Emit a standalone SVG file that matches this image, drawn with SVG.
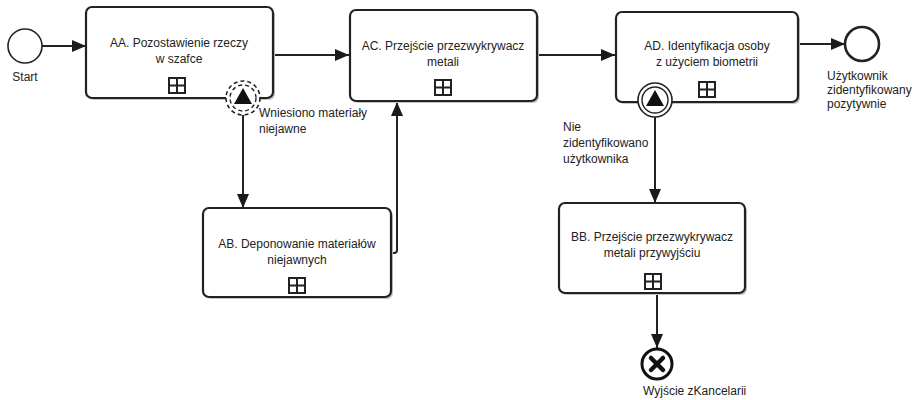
<svg xmlns="http://www.w3.org/2000/svg" width="916" height="400" viewBox="0 0 916 400">
<defs>
<marker id="arr" markerWidth="14" markerHeight="12" refX="14" refY="6" orient="auto" markerUnits="userSpaceOnUse">
<path d="M0,0 L14,6 L0,12 Z" fill="#1a1a1a"/>
</marker>
<style>
.box{fill:#fff;stroke:#222;stroke-width:2.2}
.shadow{fill:#c4c4c4;stroke:none}
.t{font-family:"Liberation Sans",Arial,sans-serif;font-size:12px;fill:#222}
.c{text-anchor:middle}
.conn{fill:none;stroke:#222;stroke-width:2}
.mk{fill:#fff;stroke:#222;stroke-width:2}
</style>
</defs>
<rect width="916" height="400" fill="#fff"/>

<g id="connectors">
<path class="conn" d="M42,46 L86,46" marker-end="url(#arr)"/>
<path class="conn" d="M273,55 L349,55" marker-end="url(#arr)"/>
<path class="conn" d="M243,115 L243,208" marker-end="url(#arr)"/>
<path class="conn" d="M391,253 L394,253 Q397,253 397,250 L397,102" marker-end="url(#arr)"/>
<path class="conn" d="M538,55 L615,55" marker-end="url(#arr)"/>
<path class="conn" d="M798,44 L845,44" marker-end="url(#arr)"/>
<path class="conn" d="M655,117 L655,203" marker-end="url(#arr)"/>
<path class="conn" d="M657,293 L657,348" marker-end="url(#arr)"/>
</g>

<g id="start">
<circle cx="25" cy="46" r="17" fill="#fff" stroke="#222" stroke-width="1.6"/>
<text class="t c" x="25" y="81">Start</text>
</g>

<g id="AA">
<rect class="shadow" x="88" y="9" width="187" height="91" rx="6"/>
<rect class="box" x="86" y="7" width="187" height="91" rx="6"/>
<text class="t c" x="179" y="47">AA. Pozostawienie rzeczy</text>
<text class="t c" x="179" y="63">w szafce</text>
<rect class="mk" x="169" y="78" width="16" height="15"/>
<path d="M177,78 V93 M169,85.5 H185" stroke="#222" stroke-width="2"/>
</g>

<g id="evAA">
<circle cx="243" cy="98" r="17" fill="#fff" stroke="#222" stroke-width="1.6" stroke-dasharray="4,3"/>
<circle cx="243" cy="98" r="13" fill="none" stroke="#222" stroke-width="1.4" stroke-dasharray="4,3"/>
<path d="M243,88 L252,104 L234,104 Z" fill="#111"/>
<text class="t" x="259" y="117">Wniesiono materiały</text>
<text class="t" x="259" y="133">niejawne</text>
</g>

<g id="AB">
<rect class="shadow" x="205" y="210" width="188" height="89" rx="6"/>
<rect class="box" x="203" y="208" width="188" height="89" rx="6"/>
<text class="t c" x="297" y="248">AB. Deponowanie materiałów</text>
<text class="t c" x="297" y="264">niejawnych</text>
<rect class="mk" x="289" y="278" width="16" height="15"/>
<path d="M297,278 V293 M289,285.5 H305" stroke="#222" stroke-width="2"/>
</g>

<g id="AC">
<rect class="shadow" x="352" y="12" width="187" height="91" rx="6"/>
<rect class="box" x="350" y="10" width="187" height="91" rx="6"/>
<text class="t c" x="443" y="50">AC. Przejście przezwykrywacz</text>
<text class="t c" x="443" y="66">metali</text>
<rect class="mk" x="435" y="80" width="16" height="15"/>
<path d="M443,80 V95 M435,87.5 H451" stroke="#222" stroke-width="2"/>
</g>

<g id="AD">
<rect class="shadow" x="618" y="14" width="182" height="90" rx="6"/>
<rect class="box" x="616" y="12" width="182" height="90" rx="6"/>
<text class="t c" x="707" y="50">AD. Identyfikacja osoby</text>
<text class="t c" x="707" y="66">z użyciem biometrii</text>
<rect class="mk" x="699" y="82" width="16" height="15"/>
<path d="M707,82 V97 M699,89.5 H715" stroke="#222" stroke-width="2"/>
</g>

<g id="evAD">
<circle cx="655" cy="100" r="17" fill="#fff" stroke="#222" stroke-width="1.6"/>
<circle cx="655" cy="100" r="13" fill="none" stroke="#222" stroke-width="1.4"/>
<path d="M655,90 L664,106 L646,106 Z" fill="#111"/>
<text class="t" x="563" y="131">Nie</text>
<text class="t" x="563" y="147">zidentyfikowano</text>
<text class="t" x="563" y="163">użytkownika</text>
</g>

<g id="endOK">
<circle cx="862" cy="44" r="17" fill="#fff" stroke="#222" stroke-width="2.6"/>
<text class="t" x="827" y="80">Użytkownik</text>
<text class="t" x="827" y="94">zidentyfikowany</text>
<text class="t" x="827" y="108">pozytywnie</text>
</g>

<g id="BB">
<rect class="shadow" x="561" y="205" width="186" height="90" rx="6"/>
<rect class="box" x="559" y="203" width="186" height="90" rx="6"/>
<text class="t c" x="652" y="241">BB. Przejście przezwykrywacz</text>
<text class="t c" x="652" y="257">metali przywyjściu</text>
<rect class="mk" x="645" y="274" width="16" height="15"/>
<path d="M653,274 V289 M645,281.5 H661" stroke="#222" stroke-width="2"/>
</g>

<g id="endCancel">
<circle cx="657" cy="364" r="15" fill="#fff" stroke="#111" stroke-width="3"/>
<path d="M651,358 L663,370 M663,358 L651,370" stroke="#111" stroke-width="4.5" stroke-linecap="round"/>
<text class="t" x="643" y="395">Wyjście zKancelarii</text>
</g>
</svg>
